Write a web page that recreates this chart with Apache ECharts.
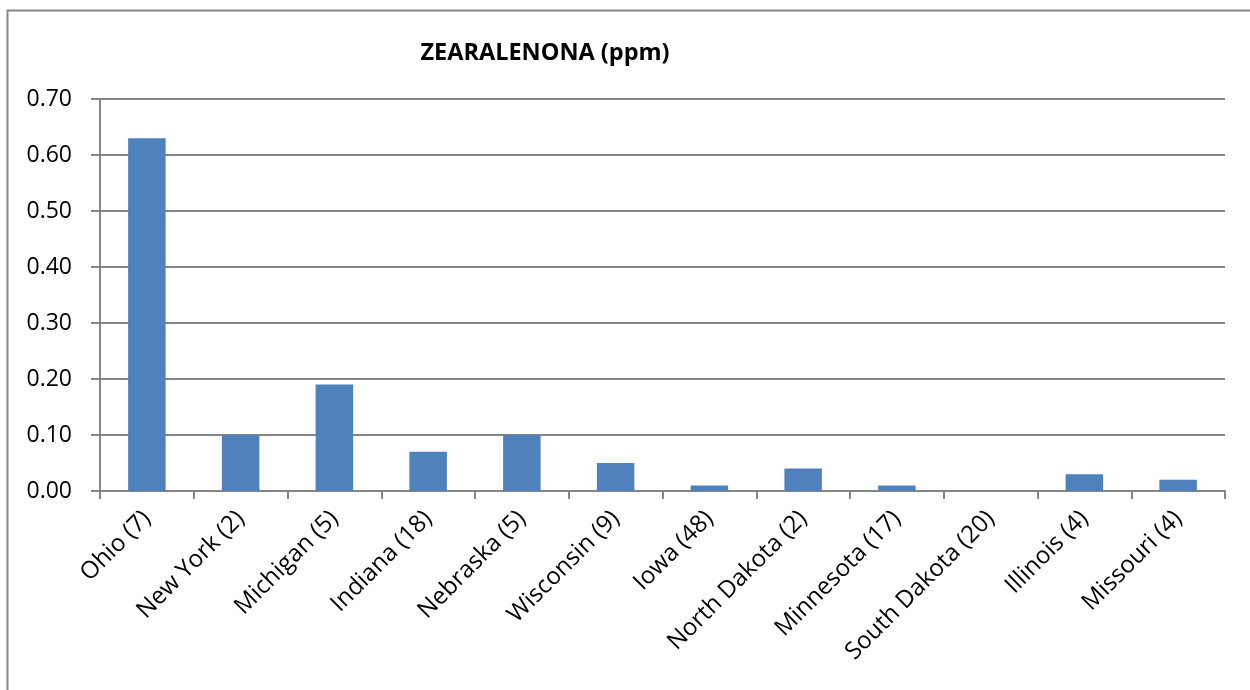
<!DOCTYPE html>
<html>
<head>
<meta charset="utf-8">
<script src="https://cdn.jsdelivr.net/npm/echarts@6/dist/echarts.min.js"></script>
<style>
  html, body { margin: 0; padding: 0; background: #fff; }
  #main { width: 1250px; height: 690px; }
</style>
</head>
<body>
<div id="main"></div>
<script>
// data
var states = ['Ohio (7)', 'New York (2)', 'Michigan (5)', 'Indiana (18)', 'Nebraska (5)', 'Wisconsin (9)',
  'Iowa (48)', 'North Dakota (2)', 'Minnesota (17)', 'South Dakota (20)', 'Illinois (4)', 'Missouri (4)'];
var zea = [0.63, 0.10, 0.19, 0.07, 0.10, 0.05, 0.01, 0.04, 0.01, 0.00, 0.03, 0.02];

var chart = echarts.init(document.getElementById('main'));
var font = '"Open Sans", "Liberation Sans", sans-serif';

var option = {
  animation: false,
  title: {
    text: 'ZEARALENONA (ppm)',
    left: 540,
    top: 36,
    textAlign: 'center',
    textStyle: { fontFamily: font, fontWeight: 'bold', fontSize: 23.5, color: '#000' }
  },
  graphic: [
    {
      // outer chart frame (cut off right & bottom)
      type: 'rect',
      shape: { x: 7.5, y: 10.5, width: 1300, height: 720 },
      style: { fill: null, stroke: '#868686', lineWidth: 2 }
    }
  ],
  grid: { left: 100, right: 25, top: 99, bottom: 199 },
  xAxis: {
    type: 'category',
    data: states,
    axisLine: { lineStyle: { color: '#868686', width: 2 } },
    axisTick: { show: true, length: 8, lineStyle: { color: '#868686', width: 2 } },
    axisLabel: {
      rotate: 45, fontFamily: font, fontSize: 24, color: '#000', margin: 24, interval: 0
    }
  },
  yAxis: {
    type: 'value',
    min: 0, max: 0.7, interval: 0.1,
    axisLine: { show: true, lineStyle: { color: '#868686', width: 2 } },
    axisTick: { show: true, length: 9, lineStyle: { color: '#868686', width: 2 } },
    splitLine: { lineStyle: { color: '#868686', width: 2 } },
    axisLabel: {
      formatter: function (v) { return v.toFixed(2); },
      fontFamily: font, fontSize: 23, color: '#000', margin: 28
    }
  },
  series: [
    {
      type: 'bar',
      data: zea,
      barWidth: '40%',
      itemStyle: { color: '#4F81BD' }
    }
  ]
};

chart.setOption(option);
</script>
</body>
</html>
